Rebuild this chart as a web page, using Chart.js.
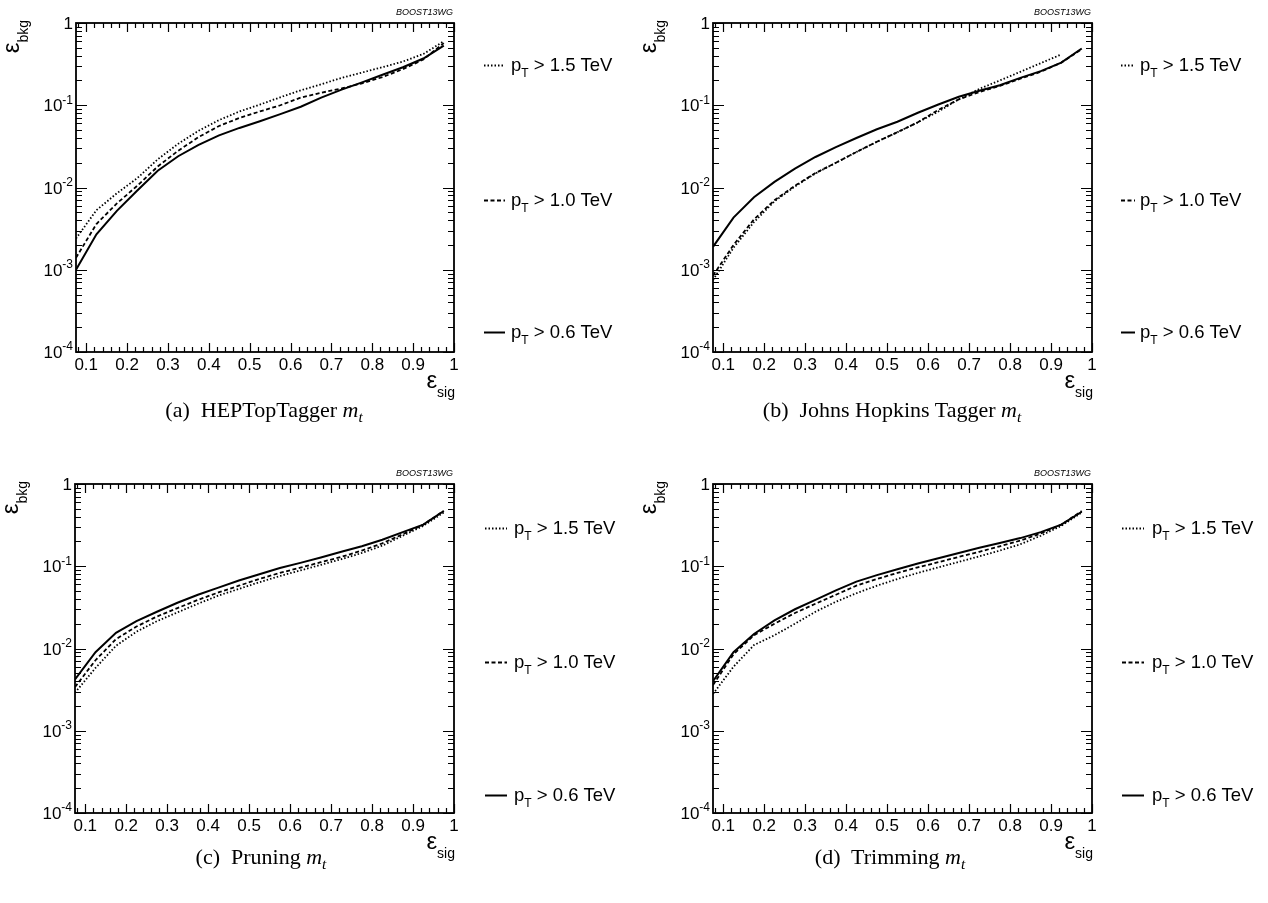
<!DOCTYPE html>
<html>
<head>
<meta charset="utf-8">
<script src="https://cdn.jsdelivr.net/npm/chart.js@4.4.0/dist/chart.umd.min.js"></script>
<style>
  html, body { margin: 0; padding: 0; background: #fff; }
  #page { position: relative; width: 1268px; height: 903px; overflow: hidden; }
  .panel { position: absolute; width: 634px; height: 451px; }
  .caption {
    position: absolute; white-space: nowrap; color: #000;
    font-family: "Liberation Serif", "Times New Roman", serif; font-size: 22px;
    transform: translate(-50%, -50%);
  }
  .caption sub { font-size: 0.7em; vertical-align: -0.3em; line-height: 0; }
</style>
</head>
<body>
<div id="page">
  <div class="panel" style="left:0;top:0"><canvas id="panelA" width="634" height="451"></canvas></div>
  <div class="panel" style="left:634px;top:0"><canvas id="panelB" width="634" height="451"></canvas></div>
  <div class="panel" style="left:0;top:451px"><canvas id="panelC" width="634" height="451"></canvas></div>
  <div class="panel" style="left:634px;top:451px"><canvas id="panelD" width="634" height="451"></canvas></div>
</div>
<script>
// signal efficiency points shared by all curves
var effSig = [0.075, 0.125, 0.175, 0.225, 0.275, 0.325, 0.375, 0.425, 0.475, 0.525,
              0.575, 0.625, 0.675, 0.725, 0.775, 0.825, 0.875, 0.925, 0.975];

var xTicks = [0.1, 0.2, 0.3, 0.4, 0.5, 0.6, 0.7, 0.8, 0.9, 1];
var xTickLabels = ['0.1', '0.2', '0.3', '0.4', '0.5', '0.6', '0.7', '0.8', '0.9', '1'];
var yTicks = [1e-4, 1e-3, 1e-2, 1e-1, 1];
var yTickLabels = ['10^{-4}', '10^{-3}', '10^{-2}', '10^{-1}', '1'];

var ptLabels = ['p_{T} > 1.5 TeV', 'p_{T} > 1.0 TeV', 'p_{T} > 0.6 TeV'];
var panelTitles = ['(a)', '(b)', '(c)', '(d)'];
var taggerNames = ['HEPTopTagger', 'Johns Hopkins Tagger', 'Pruning', 'Trimming'];

// background efficiency, HEPTopTagger
var hepPt15 = [2.4e-3, 5.3e-3, 8.5e-3, 1.3e-2, 2.2e-2, 3.4e-2, 4.9e-2, 6.6e-2, 8.4e-2, 0.102,
               0.125, 0.152, 0.18, 0.215, 0.25, 0.29, 0.34, 0.42, 0.60];
var hepPt10 = [1.4e-3, 3.6e-3, 6.4e-3, 1.05e-2, 1.8e-2, 2.8e-2, 4.1e-2, 5.6e-2, 7.0e-2, 8.4e-2,
               0.100, 0.124, 0.142, 0.16, 0.185, 0.22, 0.275, 0.36, 0.57];
var hepPt06 = [1.0e-3, 2.7e-3, 5.2e-3, 9.2e-3, 1.6e-2, 2.4e-2, 3.3e-2, 4.3e-2, 5.3e-2, 6.4e-2,
               7.8e-2, 9.6e-2, 0.124, 0.155, 0.19, 0.235, 0.29, 0.37, 0.53];

// Johns Hopkins Tagger
var jhPt15 = [7.5e-4, 1.85e-3, 3.8e-3, 6.8e-3, 1.03e-2, 1.48e-2, 2.0e-2, 2.7e-2, 3.6e-2, 4.7e-2,
              6.2e-2, 8.4e-2, 0.118, 0.158, 0.20, 0.255, 0.325, 0.415, null];
var jhPt10 = [8.5e-4, 2.0e-3, 4.1e-3, 7.0e-3, 1.05e-2, 1.5e-2, 2.0e-2, 2.7e-2, 3.6e-2, 4.7e-2,
              6.2e-2, 8.8e-2, 0.118, 0.145, 0.172, 0.21, 0.255, 0.33, 0.48];
var jhPt06 = [1.9e-3, 4.3e-3, 7.6e-3, 1.17e-2, 1.7e-2, 2.35e-2, 3.1e-2, 4.0e-2, 5.1e-2, 6.3e-2,
              8.1e-2, 0.102, 0.127, 0.15, 0.175, 0.215, 0.26, 0.33, 0.49];

// Pruning
var prunPt15 = [2.9e-3, 5.8e-3, 1.08e-2, 1.6e-2, 2.15e-2, 2.75e-2, 3.5e-2, 4.4e-2, 5.3e-2, 6.4e-2,
                7.6e-2, 8.9e-2, 0.104, 0.122, 0.145, 0.178, 0.235, 0.31, 0.45];
var prunPt10 = [3.4e-3, 7.2e-3, 1.3e-2, 1.85e-2, 2.45e-2, 3.1e-2, 3.9e-2, 4.8e-2, 5.8e-2, 7.0e-2,
                8.3e-2, 9.6e-2, 0.112, 0.13, 0.155, 0.19, 0.245, 0.32, 0.47];
var prunPt06 = [4.2e-3, 9.0e-3, 1.55e-2, 2.15e-2, 2.8e-2, 3.6e-2, 4.5e-2, 5.5e-2, 6.7e-2, 8.0e-2,
                9.5e-2, 0.11, 0.128, 0.15, 0.175, 0.21, 0.26, 0.32, 0.47];

// Trimming
var trimPt15 = [2.8e-3, 6.0e-3, 1.1e-2, 1.45e-2, 2.0e-2, 2.8e-2, 3.7e-2, 4.7e-2, 5.8e-2, 7.0e-2,
                8.3e-2, 9.7e-2, 0.113, 0.132, 0.155, 0.185, 0.235, 0.31, 0.45];
var trimPt10 = [3.6e-3, 8.5e-3, 1.45e-2, 2.0e-2, 2.7e-2, 3.5e-2, 4.5e-2, 5.8e-2, 7.0e-2, 8.3e-2,
                9.7e-2, 0.112, 0.13, 0.15, 0.175, 0.205, 0.25, 0.32, 0.47];
var trimPt06 = [4.0e-3, 9.0e-3, 1.5e-2, 2.2e-2, 3.0e-2, 3.9e-2, 5.1e-2, 6.5e-2, 7.8e-2, 9.2e-2,
                0.108, 0.125, 0.145, 0.168, 0.192, 0.22, 0.26, 0.32, 0.46];

var FONT = '"Liberation Sans", Arial, Helvetica, sans-serif';
var CANVAS_W = 634, CANVAS_H = 451, XAXIS_H = 40;

// dotted, dashed, solid (ROOT line styles 3, 2, 1)
var lineDash = [[1.5, 2], [4, 2.5], []];
var lineWidth = [1.8, 1.8, 2];

// draws text with _{...} subscripts and ^{...} superscripts
function drawScript(ctx, str, x, y, size, align, scale) {
    var parts = [], re = /([_^])\{([^}]*)\}/g, last = 0, m;
    scale = scale || 0.68;
    while ((m = re.exec(str))) {
        if (m.index > last) parts.push({ t: str.slice(last, m.index), s: size, dy: 0 });
        parts.push({ t: m[2], s: Math.round(size * scale), dy: m[1] === '_' ? size * 0.36 : -size * 0.45 });
        last = re.lastIndex;
    }
    if (last < str.length) parts.push({ t: str.slice(last), s: size, dy: 0 });
    var w = 0;
    parts.forEach(function(p) {
        ctx.font = p.s + 'px ' + FONT;
        p.w = ctx.measureText(p.t).width;
        w += p.w;
    });
    var cx = align === 'right' ? x - w : (align === 'center' ? x - w / 2 : x);
    ctx.textAlign = 'left';
    ctx.textBaseline = 'alphabetic';
    parts.forEach(function(p) {
        ctx.font = p.s + 'px ' + FONT;
        ctx.fillText(p.t, cx, y + p.dy);
        cx += p.w;
    });
}

// ROOT-like frame: inward ticks on all four sides, log labels, titles, legend
var rootFrame = {
    id: 'rootFrame',
    afterDraw: function(chart, args, opts) {
        var ctx = chart.ctx, a = chart.chartArea;
        var xs = chart.scales.x, ys = chart.scales.y;
        ctx.save();
        ctx.fillStyle = '#000';
        ctx.strokeStyle = '#000';
        ctx.setLineDash([]);

        // ticks
        ctx.lineWidth = 1.2;
        ctx.beginPath();
        for (var k = 4; k <= 50; k++) {
            var xv = k * 0.02;
            if (xv < xs.min - 1e-9) continue;
            var px = Math.round(xs.getPixelForValue(xv)) + 0.5;
            var len = (k % 5 === 0) ? 9 : 5;
            ctx.moveTo(px, a.bottom); ctx.lineTo(px, a.bottom - len);
            ctx.moveTo(px, a.top); ctx.lineTo(px, a.top + len);
        }
        for (var d = -4; d <= 0; d++) {
            for (var j = 1; j <= 9; j++) {
                var yv = j * Math.pow(10, d);
                if (yv > 1.0001) break;
                var py = Math.round(ys.getPixelForValue(yv)) + 0.5;
                var ylen = (j === 1) ? 11 : 6;
                ctx.moveTo(a.left, py); ctx.lineTo(a.left + ylen, py);
                ctx.moveTo(a.right, py); ctx.lineTo(a.right - ylen, py);
            }
        }
        ctx.stroke();

        // frame
        ctx.lineWidth = 1.8;
        ctx.strokeRect(a.left, a.top, a.right - a.left, a.bottom - a.top);

        // y tick labels
        yTicks.forEach(function(v, i) {
            drawScript(ctx, yTickLabels[i], a.left - 3, ys.getPixelForValue(v) + 6, 17, 'right', 0.68);
        });

        // axis titles
        drawScript(ctx, '\u03b5_{sig}', a.right + 1, a.bottom + 36, 24, 'right', 0.58);
        ctx.save();
        ctx.translate(a.left - 57, a.top - 3);
        ctx.rotate(-Math.PI / 2);
        drawScript(ctx, '\u03b5_{bkg}', 0, 0, 24, 'right', 0.58);
        ctx.restore();

        // watermark
        ctx.font = 'italic 9px ' + FONT;
        ctx.textAlign = 'right';
        ctx.fillText('BOOST13WG', a.right - 1, a.top - 8);

        // legend
        var lg = opts.legend;
        chart.data.datasets.forEach(function(ds, i) {
            var ly = a.top + lg.ys[i] + 0.5;
            ctx.lineWidth = ds.borderWidth;
            ctx.setLineDash(ds.borderDash);
            ctx.beginPath();
            ctx.moveTo(lg.x0, ly); ctx.lineTo(lg.x1, ly);
            ctx.stroke();
            ctx.setLineDash([]);
            drawScript(ctx, ds.label, lg.tx, ly + 5, 18.5, 'left', 0.65);
        });
        ctx.restore();
    }
};

function makePanel(canvasId, series, plot, legend) {
    var datasets = series.map(function(vals, i) {
        return {
            label: ptLabels[i],
            data: vals.map(function(v, j) { return { x: effSig[j], y: v }; }),
            borderColor: '#000',
            borderWidth: lineWidth[i],
            borderDash: lineDash[i],
            borderCapStyle: 'butt',
            pointRadius: 0,
            tension: 0,
            fill: false,
            spanGaps: false
        };
    });
    return new Chart(document.getElementById(canvasId), {
        type: 'line',
        data: { datasets: datasets },
        options: {
            responsive: false,
            animation: false,
            devicePixelRatio: 1,
            events: [],
            layout: {
                padding: {
                    left: plot.left,
                    top: plot.top,
                    right: CANVAS_W - plot.right,
                    bottom: CANVAS_H - plot.bottom - XAXIS_H
                }
            },
            scales: {
                x: {
                    type: 'linear',
                    position: 'bottom',
                    min: 0.075,
                    max: 1,
                    afterBuildTicks: function(scale) {
                        scale.ticks = xTicks.map(function(v) { return { value: v }; });
                    },
                    afterFit: function(scale) { scale.height = XAXIS_H; },
                    grid: { display: false, drawTicks: false },
                    border: { display: false },
                    ticks: {
                        autoSkip: false,
                        maxRotation: 0,
                        padding: 3,
                        color: '#000',
                        font: { family: FONT, size: 17 },
                        callback: function(value, index) { return xTickLabels[index]; }
                    }
                },
                y: {
                    type: 'logarithmic',
                    min: 1e-4,
                    max: 1,
                    display: false
                }
            },
            plugins: {
                legend: { display: false },
                tooltip: { enabled: false },
                rootFrame: { legend: legend }
            }
        },
        plugins: [rootFrame]
    });
}

makePanel('panelA', [hepPt15, hepPt10, hepPt06],
    { left: 76, top: 23, right: 454, bottom: 352 },
    { x0: 484, x1: 505, tx: 511, ys: [42, 177, 309] });
makePanel('panelB', [jhPt15, jhPt10, jhPt06],
    { left: 79, top: 23, right: 458, bottom: 352 },
    { x0: 487, x1: 501, tx: 506, ys: [42, 177, 309] });
makePanel('panelC', [prunPt15, prunPt10, prunPt06],
    { left: 75, top: 33, right: 454, bottom: 362 },
    { x0: 485, x1: 507, tx: 514, ys: [44, 178, 311] });
makePanel('panelD', [trimPt15, trimPt10, trimPt06],
    { left: 79, top: 33, right: 458, bottom: 362 },
    { x0: 488, x1: 510, tx: 518, ys: [44, 178, 311] });

// sub-figure captions
var captionPos = [[264, 410], [892, 410], [261, 857], [890, 857]];
var page = document.getElementById('page');
captionPos.forEach(function(pos, i) {
    var div = document.createElement('div');
    div.className = 'caption';
    div.style.left = pos[0] + 'px';
    div.style.top = pos[1] + 'px';
    div.innerHTML = panelTitles[i] + '&nbsp; ' + taggerNames[i] + ' <i>m<sub>t</sub></i>';
    page.appendChild(div);
});
</script>
</body>
</html>
